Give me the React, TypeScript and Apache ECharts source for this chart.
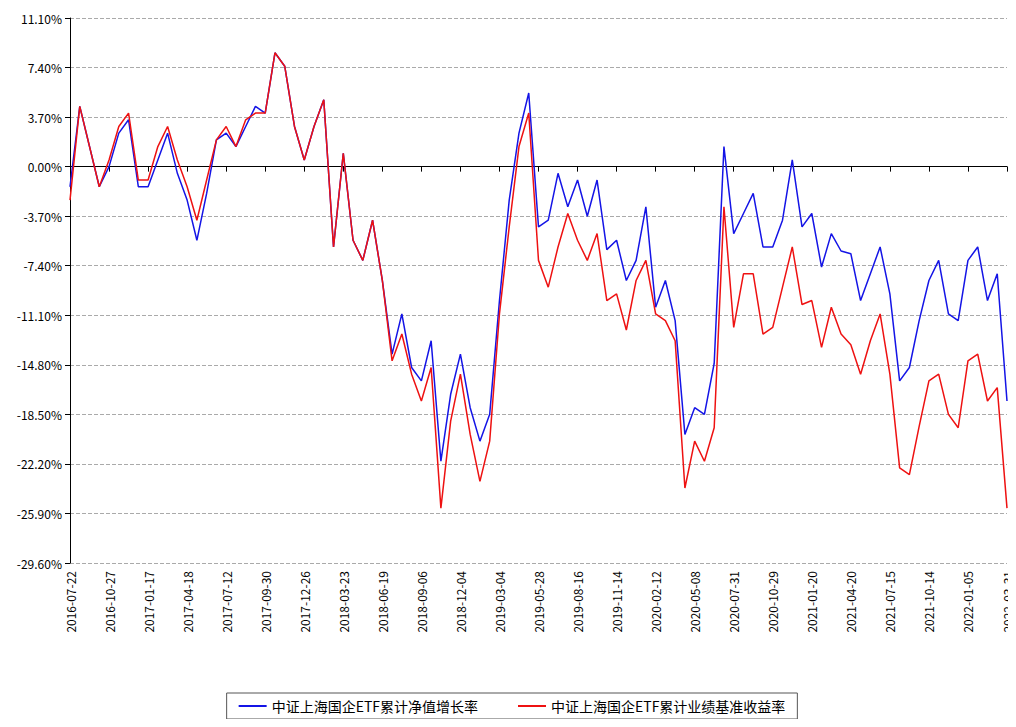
import React, { useRef, useEffect } from 'react';
import * as echarts from 'echarts';

// tick dates, one every 4 points
const tickDates = [
  '2016-07-22', '2016-10-27', '2017-01-17', '2017-04-18', '2017-07-12', '2017-09-30',
  '2017-12-26', '2018-03-23', '2018-06-19', '2018-09-06', '2018-12-04', '2019-03-04',
  '2019-05-28', '2019-08-16', '2019-11-14', '2020-02-12', '2020-05-08', '2020-07-31',
  '2020-10-29', '2021-01-20', '2021-04-20', '2021-07-15', '2021-10-14', '2022-01-05',
  '2022-03-31',
];
const step = 4;

const navGrowth = [
  -1.5, 4.5, 1.5, -1.5, 0, 2.5, 3.5, -1.5, -1.5, 0.5, 2.5, -0.5, -2.5, -5.5, -2, 2,
  2.5, 1.5, 3, 4.5, 4, 8.5, 7.5, 3, 0.5, 3, 5, -6, 1, -5.5, -7, -4,
  -8.5, -14, -11, -15, -16, -13, -22, -17, -14, -18, -20.5, -18.5, -10, -2.5, 2.5, 5.5,
  -4.5, -4, -0.5, -3, -1, -3.7, -1, -6.2, -5.5, -8.5, -7, -3, -10.5, -8.5, -11.5, -20,
  -18, -18.5, -14.7, 1.5, -5, -3.5, -2, -6, -6, -4, 0.5, -4.5, -3.5, -7.5, -5, -6.3,
  -6.5, -10, -8, -6, -9.5, -16, -15, -11.5, -8.5, -7, -11, -11.5, -7, -6, -10, -8,
  -17.5,
];
const benchmark = [
  -2.5, 4.5, 1.5, -1.5, 0.5, 3, 4, -1, -1, 1.5, 3, 0.5, -1.5, -4, -1, 2,
  3, 1.5, 3.5, 4, 4, 8.5, 7.5, 3, 0.5, 3, 5, -6, 1, -5.5, -7, -4,
  -8.5, -14.5, -12.5, -15.5, -17.5, -15, -25.5, -19, -15.5, -20, -23.5, -20.5, -11, -4.5, 1.5, 4,
  -7, -9, -6, -3.5, -5.5, -7, -5, -10, -9.5, -12.2, -8.5, -7, -11, -11.5, -13, -24,
  -20.5, -22, -19.5, -3, -12, -8, -8, -12.5, -12, -9, -6, -10.3, -10, -13.5, -10.5, -12.5,
  -13.3, -15.5, -13, -11, -15.5, -22.5, -23, -19.4, -16, -15.5, -18.5, -19.5, -14.5, -14, -17.5, -16.5,
  -25.5,
];

const categories = navGrowth.map((_, i) => (i % step === 0 ? tickDates[i / step] : ''));

const font = 'SimSun, "Noto Sans CJK SC", sans-serif';

const App = () => {
  const chartRef = useRef(null);

  useEffect(() => {
    const myChart = echarts.init(chartRef.current, null, { renderer: 'svg' });

    const option = {
      animation: false,
      backgroundColor: '#fff',
      grid: { left: 62, right: 9, top: 10, bottom: 156 },
      legend: {
        bottom: 0,
        left: 'center',
        itemWidth: 28,
        itemHeight: 2,
        itemGap: 40,
        padding: [6, 12, 6, 12],
        borderColor: '#555',
        borderWidth: 1,
        icon: 'rect',
        textStyle: { fontSize: 14, color: '#000', fontFamily: font },
        data: ['中证上海国企ETF累计净值增长率', '中证上海国企ETF累计业绩基准收益率'],
      },
      xAxis: {
        type: 'category',
        boundaryGap: false,
        data: categories,
        axisLine: { lineStyle: { color: '#000' } },
        axisTick: { interval: step - 1, lineStyle: { color: '#000' } },
        axisLabel: {
          interval: step - 1,
          rotate: 90,
          color: '#000',
          fontSize: 12,
          fontFamily: font,
        },
      },
      yAxis: {
        type: 'value',
        min: -29.6,
        max: 11.1,
        interval: 3.7,
        axisLine: { show: true, lineStyle: { color: '#000' } },
        axisTick: { show: true, lineStyle: { color: '#000' } },
        axisLabel: {
          color: '#000',
          fontSize: 12,
          fontFamily: font,
          formatter: (v: number) => v.toFixed(2) + '%',
        },
        splitLine: { lineStyle: { color: '#aaa', type: 'dashed' } },
      },
      series: [
        {
          name: '中证上海国企ETF累计净值增长率',
          type: 'line',
          data: navGrowth,
          symbol: 'none',
          color: '#1414e6',
          lineStyle: { width: 1.5 },
        },
        {
          name: '中证上海国企ETF累计业绩基准收益率',
          type: 'line',
          data: benchmark,
          symbol: 'none',
          color: '#ee1111',
          lineStyle: { width: 1.5 },
        },
      ],
    };

    myChart.setOption(option);

    return () => {
      myChart.dispose();
    };
  }, []);

  return <div ref={chartRef} style={{ width: '1008px', height: '711px' }} />;
};

export default App;
